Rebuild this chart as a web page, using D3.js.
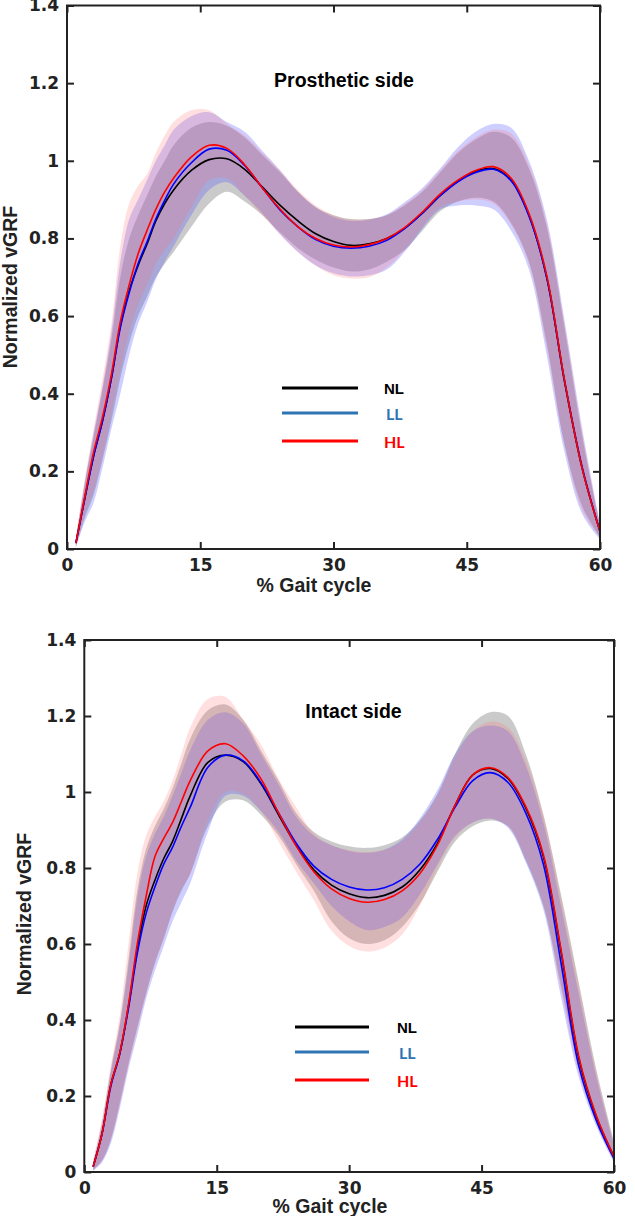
<!DOCTYPE html>
<html><head><meta charset="utf-8">
<script src="https://cdn.jsdelivr.net/npm/d3@7"></script>
<style>body{margin:0;background:#fff}svg{display:block}</style>
</head><body>
<svg id="c" width="635" height="1216"></svg>
<script>
// ---------- DATA ----------
const gaitPct = [1,2,3,4,5,6,7,8,9,10,11,12,14,16,18,20,22,24,26,28,30,32,34,36,38,40,42,44,46,48,50,52,54,56,58,60];
const groups = ['NL','LL','HL'];
const xTicks = [0,15,30,45,60];
const xTickLabels = ['0','15','30','45','60'];
const yTicks = [0,0.2,0.4,0.6,0.8,1,1.2,1.4];
const yTickLabels = ['0','0.2','0.4','0.6','0.8','1','1.2','1.4'];
const panelTitles = ['Prosthetic side','Intact side'];

// Prosthetic side
const prosNLMean  = [0.015,0.13,0.24,0.33,0.44,0.575,0.665,0.73,0.785,0.845,0.89,0.925,0.975,1.003,1.005,0.978,0.932,0.885,0.845,0.812,0.792,0.782,0.786,0.80,0.826,0.865,0.91,0.948,0.973,0.98,0.95,0.86,0.70,0.432,0.207,0.045];
const prosLLMean  = [0.015,0.13,0.24,0.33,0.44,0.57,0.66,0.735,0.79,0.85,0.898,0.94,0.995,1.03,1.027,0.988,0.93,0.873,0.83,0.797,0.78,0.775,0.78,0.795,0.825,0.865,0.91,0.946,0.97,0.978,0.948,0.858,0.70,0.435,0.21,0.045];
const prosHLMean  = [0.015,0.135,0.25,0.34,0.45,0.585,0.68,0.76,0.82,0.875,0.92,0.955,1.01,1.04,1.032,0.99,0.93,0.875,0.83,0.80,0.783,0.778,0.784,0.80,0.828,0.868,0.914,0.95,0.975,0.985,0.955,0.865,0.705,0.435,0.207,0.045];
const prosNLUpper = [0.025,0.17,0.29,0.41,0.54,0.70,0.80,0.86,0.91,0.96,1.00,1.04,1.085,1.10,1.09,1.06,1.015,0.97,0.92,0.88,0.86,0.85,0.85,0.86,0.885,0.92,0.97,1.02,1.055,1.075,1.06,0.98,0.83,0.57,0.29,0.06];
const prosNLLower = [0.005,0.08,0.14,0.23,0.33,0.44,0.53,0.60,0.65,0.70,0.735,0.765,0.83,0.89,0.92,0.895,0.86,0.815,0.775,0.745,0.725,0.715,0.72,0.74,0.77,0.82,0.87,0.895,0.905,0.895,0.84,0.74,0.53,0.27,0.11,0.03];
const prosLLUpper = [0.025,0.17,0.30,0.42,0.56,0.74,0.85,0.90,0.95,1.00,1.04,1.08,1.115,1.125,1.10,1.075,1.025,0.975,0.92,0.88,0.855,0.845,0.848,0.862,0.893,0.93,0.98,1.035,1.075,1.095,1.085,1.00,0.85,0.59,0.31,0.065];
const prosLLLower = [0.003,0.07,0.12,0.21,0.31,0.40,0.50,0.58,0.635,0.695,0.74,0.78,0.86,0.925,0.945,0.91,0.865,0.81,0.765,0.73,0.71,0.702,0.705,0.72,0.765,0.825,0.875,0.885,0.885,0.875,0.82,0.72,0.50,0.25,0.09,0.025];
const prosHLUpper = [0.03,0.18,0.31,0.44,0.58,0.78,0.89,0.935,0.965,1.02,1.065,1.10,1.13,1.13,1.095,1.065,1.02,0.975,0.925,0.885,0.86,0.848,0.85,0.86,0.888,0.925,0.975,1.025,1.06,1.08,1.07,0.99,0.84,0.58,0.30,0.06];
const prosHLLower = [0.005,0.09,0.15,0.24,0.35,0.46,0.56,0.63,0.68,0.735,0.77,0.80,0.88,0.95,0.955,0.91,0.86,0.81,0.765,0.73,0.705,0.697,0.70,0.725,0.77,0.83,0.88,0.895,0.90,0.89,0.835,0.735,0.52,0.27,0.10,0.03];

// Intact side
const intNLMean  = [0.014,0.10,0.23,0.31,0.435,0.585,0.70,0.768,0.825,0.87,0.93,0.99,1.078,1.097,1.08,1.022,0.94,0.86,0.795,0.755,0.732,0.722,0.728,0.75,0.795,0.865,0.965,1.045,1.062,1.035,0.958,0.83,0.58,0.30,0.145,0.04];
const intLLMean  = [0.014,0.10,0.225,0.31,0.43,0.575,0.68,0.75,0.81,0.855,0.91,0.96,1.065,1.097,1.082,1.025,0.945,0.865,0.805,0.77,0.75,0.742,0.748,0.77,0.81,0.875,0.96,1.03,1.051,1.025,0.945,0.81,0.55,0.28,0.135,0.035];
const intHLMean  = [0.014,0.10,0.23,0.312,0.44,0.60,0.725,0.83,0.878,0.92,0.975,1.03,1.108,1.127,1.095,1.035,0.945,0.858,0.79,0.745,0.72,0.71,0.717,0.74,0.785,0.86,0.965,1.045,1.064,1.038,0.962,0.835,0.585,0.305,0.148,0.04];
const intNLUpper = [0.025,0.13,0.27,0.39,0.56,0.74,0.85,0.91,0.955,1.01,1.075,1.14,1.215,1.23,1.19,1.11,1.03,0.945,0.895,0.87,0.857,0.853,0.86,0.88,0.925,0.995,1.10,1.18,1.21,1.20,1.10,0.94,0.73,0.50,0.27,0.08];
const intNLLower = [0.005,0.03,0.085,0.18,0.285,0.38,0.47,0.55,0.615,0.685,0.74,0.785,0.91,0.975,0.978,0.94,0.885,0.81,0.74,0.66,0.615,0.60,0.61,0.645,0.705,0.79,0.87,0.91,0.925,0.91,0.82,0.70,0.49,0.28,0.137,0.03];
const intLLUpper = [0.02,0.12,0.26,0.38,0.54,0.72,0.83,0.89,0.935,0.99,1.05,1.11,1.19,1.21,1.18,1.10,1.02,0.935,0.885,0.86,0.845,0.84,0.848,0.875,0.93,1.005,1.10,1.16,1.175,1.16,1.07,0.92,0.70,0.47,0.25,0.07];
const intLLLower = [0.003,0.025,0.075,0.165,0.27,0.36,0.455,0.53,0.595,0.66,0.71,0.76,0.895,0.99,0.99,0.95,0.895,0.82,0.76,0.70,0.66,0.637,0.645,0.67,0.73,0.81,0.885,0.92,0.93,0.905,0.815,0.69,0.46,0.25,0.12,0.025];
const intHLUpper = [0.03,0.14,0.28,0.41,0.60,0.785,0.885,0.935,0.975,1.03,1.10,1.17,1.245,1.25,1.19,1.125,1.035,0.96,0.89,0.86,0.847,0.842,0.848,0.87,0.92,0.99,1.09,1.16,1.185,1.17,1.085,0.94,0.72,0.49,0.26,0.075];
const intHLLower = [0.005,0.03,0.085,0.175,0.28,0.375,0.47,0.55,0.615,0.69,0.745,0.785,0.925,1.0,0.995,0.95,0.87,0.79,0.715,0.635,0.595,0.58,0.59,0.625,0.70,0.80,0.88,0.92,0.93,0.91,0.825,0.705,0.48,0.26,0.13,0.03];

// ---------- STYLE ----------
const lineColors = {NL:'#000000', LL:'#0000ff', HL:'#ff0000'};
const bandColors = {NL:'rgba(128,128,128,0.42)', LL:'rgba(80,80,255,0.28)', HL:'rgba(255,110,110,0.22)'};
const legendColors = {NL:'#000000', LL:'#2e75b6', HL:'#ff0000'};

const panels = [
  {left:67, right:600, top:5.5, bottom:549, titleX:344, titleY:80, xLabelX:314, xLabelY:585, yLabelX:10, yLabelY:287,
   legendX1:282, legendX2:358, legendYs:[388,413,441], legendTextX:[384,386,384],
   mean:{NL:prosNLMean, LL:prosLLMean, HL:prosHLMean},
   upper:{NL:prosNLUpper, LL:prosLLUpper, HL:prosHLUpper},
   lower:{NL:prosNLLower, LL:prosLLLower, HL:prosHLLower}},
  {left:84.3, right:614, top:640, bottom:1172, titleX:353.5, titleY:711, xLabelX:330, xLabelY:1206, yLabelX:24, yLabelY:914,
   legendX1:295, legendX2:369, legendYs:[1027,1052,1080], legendTextX:[397,399,397],
   mean:{NL:intNLMean, LL:intLLMean, HL:intHLMean},
   upper:{NL:intNLUpper, LL:intLLUpper, HL:intHLUpper},
   lower:{NL:intNLLower, LL:intLLLower, HL:intHLLower}}
];

const svg = d3.select('#c');
const axisColor = '#222';

panels.forEach((p, pi) => {
  const x = d3.scaleLinear().domain([0,60]).range([p.left, p.right]);
  const y = d3.scaleLinear().domain([0,1.4]).range([p.bottom, p.top]);
  const g = svg.append('g');
  const clipId = 'clip' + pi;
  g.append('clipPath').attr('id', clipId).append('rect')
    .attr('x', p.left).attr('y', p.top).attr('width', p.right - p.left).attr('height', p.bottom - p.top);
  const plot = g.append('g').attr('clip-path', `url(#${clipId})`);

  // bands
  groups.forEach(k => {
    const area = d3.area()
      .x((d,i) => x(gaitPct[i]))
      .y0((d,i) => y(p.lower[k][i]))
      .y1((d,i) => y(p.upper[k][i]))
      .curve(d3.curveCatmullRom);
    plot.append('path').datum(gaitPct).attr('d', area).attr('fill', bandColors[k]).attr('stroke','none');
  });
  // mean lines
  groups.forEach(k => {
    const line = d3.line()
      .x((d,i) => x(gaitPct[i]))
      .y((d,i) => y(p.mean[k][i]))
      .curve(d3.curveCatmullRom);
    plot.append('path').datum(gaitPct).attr('d', line).attr('fill','none')
      .attr('stroke', lineColors[k]).attr('stroke-width', 1.6);
  });

  // axes
  const styleAxis = sel => {
    sel.select('.domain').remove();
    sel.selectAll('.tick line').attr('stroke', axisColor).attr('stroke-width', 2);
    sel.selectAll('.tick text').attr('fill', axisColor)
      .style('font-family', '"DejaVu Sans", Verdana, sans-serif').style('font-weight', 'bold').style('font-size', '17px');
  };
  g.append('g').attr('transform', `translate(0,${p.bottom})`)
    .call(d3.axisBottom(x).tickValues(xTicks).tickFormat((d,i) => xTickLabels[i]).tickSizeInner(-7).tickSizeOuter(0).tickPadding(10))
    .call(styleAxis);
  g.append('g').attr('transform', `translate(0,${p.top})`)
    .call(d3.axisTop(x).tickValues(xTicks).tickFormat('').tickSizeInner(-7).tickSizeOuter(0))
    .call(styleAxis);
  g.append('g').attr('transform', `translate(${p.left},0)`)
    .call(d3.axisLeft(y).tickValues(yTicks).tickFormat((d,i) => yTickLabels[i]).tickSizeInner(-7).tickSizeOuter(0).tickPadding(8))
    .call(styleAxis);
  g.append('g').attr('transform', `translate(${p.right},0)`)
    .call(d3.axisRight(y).tickValues(yTicks).tickFormat('').tickSizeInner(-7).tickSizeOuter(0))
    .call(styleAxis);
  g.append('rect').attr('x', p.left).attr('y', p.top).attr('width', p.right - p.left).attr('height', p.bottom - p.top)
    .attr('fill','none').attr('stroke', axisColor).attr('stroke-width', 2);

  const labelFont = '"Liberation Sans", Arial, sans-serif';
  // title
  g.append('text').attr('x', p.titleX).attr('y', p.titleY).attr('text-anchor','middle').attr('dominant-baseline','central')
    .style('font-family', labelFont).style('font-weight','bold').style('font-size','19.5px').attr('fill','#000')
    .text(panelTitles[pi]);
  // x label
  g.append('text').attr('x', p.xLabelX).attr('y', p.xLabelY).attr('text-anchor','middle').attr('dominant-baseline','central')
    .style('font-family', labelFont).style('font-weight','bold').style('font-size','19.5px').attr('fill', axisColor)
    .text('% Gait cycle');
  // y label
  g.append('text').attr('transform', `translate(${p.yLabelX},${p.yLabelY}) rotate(-90)`).attr('text-anchor','middle')
    .attr('dominant-baseline','central')
    .style('font-family', labelFont).style('font-weight','bold').style('font-size','19.5px').attr('fill', axisColor)
    .text('Normalized vGRF');

  // legend
  groups.forEach((k, i) => {
    g.append('line').attr('x1', p.legendX1).attr('x2', p.legendX2).attr('y1', p.legendYs[i]).attr('y2', p.legendYs[i])
      .attr('stroke', legendColors[k]).attr('stroke-width', 3);
    g.append('text').attr('x', p.legendTextX[i]).attr('y', p.legendYs[i]).attr('dominant-baseline','central')
      .style('font-family', i === 0 ? labelFont : 'Lato, "Open Sans", sans-serif')
      .style('font-weight','bold').style('font-size', i === 0 ? '15px' : '16px')
      .attr('fill', legendColors[k]).text(k);
  });
});
</script>
</body></html>
